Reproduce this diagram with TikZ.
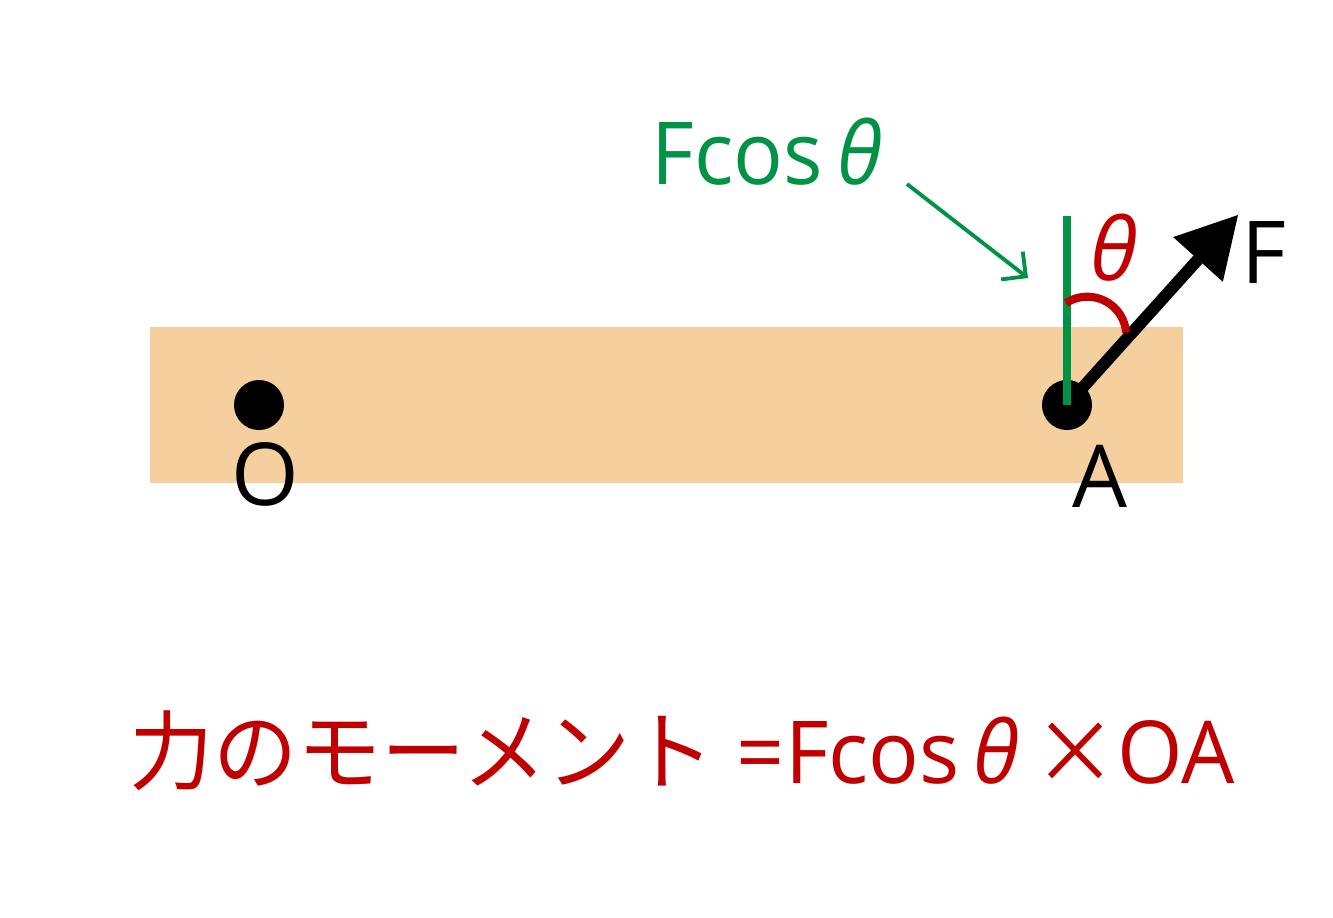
\documentclass[tikz,border=0pt]{standalone}
\usepackage{fontspec}
\usepackage{graphicx}
\setmainfont{Open Sans}
\newfontfamily\jpfont{Noto Sans CJK JP}
\usetikzlibrary{arrows.meta}
\definecolor{plank}{HTML}{F6CF9E}
\definecolor{momgreen}{HTML}{009245}
\definecolor{momred}{HTML}{C00000}

\begin{document}
\begin{tikzpicture}[x=0.01cm,y=-0.01cm]

% definitions
\tikzstyle{dot} = [circle, fill=black, inner sep=0pt, minimum size=0.5cm]
\tikzstyle{lbl} = [inner sep=0pt, font=\fontsize{24.7}{30}\selectfont]
\tikzstyle{force} = [-{Triangle[length=17pt,width=19pt,line width=0pt]}, line width=3.4pt]
\tikzstyle{pointer} = [-{Straight Barb[length=5pt,width=10pt]}, line width=1.1pt, draw=momgreen]

\useasboundingbox (0,0) rectangle (1333,917);

% the bar
\fill [plank] (150,327) rectangle (1183,483);

% the graph
\node (O) [dot] at (259,405) {};
\node (A) [dot] at (1067,405) {};
\coordinate (ftip) at (1238,215);
\coordinate (vtop) at (1067,216);
\coordinate (arcstart) at (1066,303);
\coordinate (ptail) at (907,184);
\coordinate (phead) at (1028,278);

\draw [force] (A.center) -- (ftip);
\draw [momgreen, line width=2.3pt] (A.center) -- (vtop);
\draw [momred, line width=2.3pt] (arcstart) arc [start angle=123, end angle=5, radius=0.39cm];
\draw [pointer] (ptail) -- (phead);

\node (Olbl) [lbl] at (265,474) {O};
\node (Albl) [lbl] at (1100,476) {A};
\node (Flbl) [lbl] at (1264,252) {F};
\node (theta) [lbl, text=momred] at (1114,248) {\textit{θ}};
\node (fcos) [lbl, text=momgreen] at (767,152) {\resizebox{2.3cm}{\height}{Fcos\,\textit{θ}}};

\node (moment) [lbl, text=momred, anchor=base] at (682,783) {\resizebox{11.05cm}{\height}{{\jpfont 力のモーメント}\ =Fcos\,\textit{θ}\,{\jpfont ×}OA}};

\end{tikzpicture}
\end{document}
